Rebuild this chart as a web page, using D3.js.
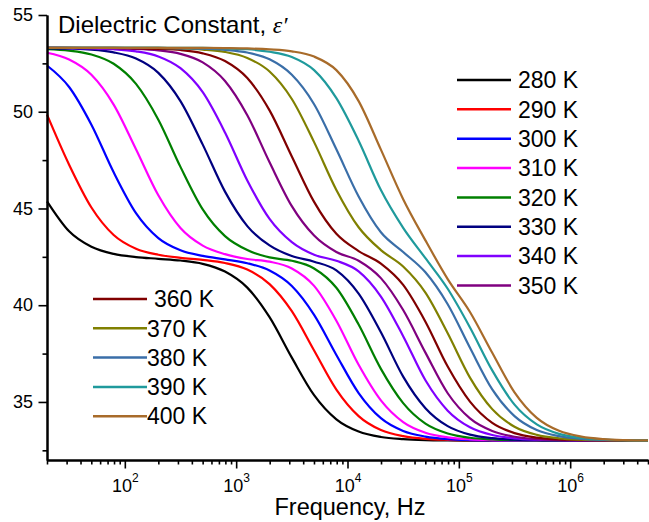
<!DOCTYPE html>
<html>
<head>
<meta charset="utf-8">
<script src="https://cdn.jsdelivr.net/npm/d3@7"></script>
<style>
  body { margin: 0; background: #fff; }
  svg { display: block; font-family: 'Liberation Sans', Arial, sans-serif; }
</style>
</head>
<body>
<svg id="chart" width="649" height="522"></svg>
<script>
// frequency grid, Hz (0.2 decade steps)
const freq = [20, 31.6, 50.1, 79.4, 126, 200, 316, 501, 794, 1259, 1995, 3162, 5012, 7943,
  12589, 19953, 31623, 50119, 79433, 125893, 199526, 316228, 501187, 794328,
  1258925, 1995262, 3162278, 5000000]

const temps = ['280 K', '290 K', '300 K', '310 K', '320 K', '330 K', '340 K',
  '350 K', '360 K', '370 K', '380 K', '390 K', '400 K']
const colors = ['#000000', '#ff0000', '#0000ff', '#ff00ff', '#008000', '#000080', '#8000ff',
  '#800080', '#800000', '#808000', '#3a6ea8', '#1f9a9c', '#a86b2a']

const eps280 = [45.37, 43.82, 43.02, 42.65, 42.49, 42.40, 42.31, 42.14, 41.74, 40.91, 39.38, 37.29, 35.35, 34.10, 33.47, 33.19, 33.08, 33.03, 33.01, 33.00, 33.00, 33.00, 33.00, 33.00, 33.00, 33.00, 33.00, 33.00]
const eps290 = [49.85, 47.26, 45.05, 43.63, 42.92, 42.61, 42.45, 42.34, 42.18, 41.84, 41.09, 39.69, 37.66, 35.64, 34.27, 33.55, 33.23, 33.09, 33.04, 33.02, 33.01, 33.00, 33.00, 33.00, 33.00, 33.00, 33.00, 33.00]
const eps300 = [52.39, 51.28, 49.33, 46.87, 44.76, 43.47, 42.84, 42.55, 42.37, 42.17, 41.79, 40.99, 39.50, 37.43, 35.46, 34.16, 33.50, 33.21, 33.08, 33.03, 33.01, 33.00, 33.00, 33.00, 33.00, 33.00, 33.00, 33.00]
const eps310 = [53.05, 52.70, 51.91, 50.37, 48.06, 45.68, 43.99, 43.08, 42.64, 42.39, 42.25, 41.90, 41.00, 39.20, 36.92, 35.08, 33.96, 33.41, 33.17, 33.07, 33.03, 33.01, 33.00, 33.00, 33.00, 33.00, 33.00, 33.00]
const eps320 = [53.24, 53.16, 52.96, 52.48, 51.44, 49.59, 47.15, 44.95, 43.57, 42.85, 42.47, 42.30, 41.90, 40.90, 39.00, 36.71, 34.94, 33.88, 33.37, 33.15, 33.06, 33.02, 33.01, 33.00, 33.00, 33.00, 33.00, 33.00]
const eps330 = [53.28, 53.26, 53.21, 53.07, 52.75, 52.01, 50.55, 48.30, 45.87, 44.09, 43.09, 42.54, 42.25, 41.80, 40.60, 38.60, 36.31, 34.68, 33.75, 33.31, 33.13, 33.05, 33.02, 33.01, 33.00, 33.00, 33.00, 33.00]
const eps340 = [53.30, 53.29, 53.27, 53.23, 53.12, 52.86, 52.25, 51.01, 48.93, 46.45, 44.46, 43.26, 42.61, 42.30, 41.75, 40.45, 38.40, 36.12, 34.55, 33.69, 33.29, 33.12, 33.05, 33.02, 33.01, 33.00, 33.00, 33.00]
const eps350 = [53.30, 53.30, 53.29, 53.28, 53.25, 53.17, 52.99, 52.55, 51.59, 49.82, 47.39, 45.12, 43.60, 42.75, 42.30, 41.40, 39.75, 37.55, 35.45, 34.15, 33.50, 33.20, 33.08, 33.03, 33.01, 33.01, 33.00, 33.00]
const eps360 = [53.30, 53.30, 53.30, 53.30, 53.28, 53.25, 53.19, 53.02, 52.62, 51.74, 50.07, 47.69, 45.34, 43.69, 42.80, 42.15, 41.05, 39.15, 36.83, 35.02, 33.92, 33.39, 33.16, 33.06, 33.03, 33.01, 33.00, 33.00]
const eps370 = [53.30, 53.30, 53.30, 53.30, 53.30, 53.30, 53.27, 53.21, 53.09, 52.78, 52.08, 50.66, 48.43, 45.96, 44.03, 42.85, 42.00, 40.65, 38.55, 36.26, 34.63, 33.72, 33.30, 33.12, 33.05, 33.02, 33.01, 33.00]
const eps380 = [53.30, 53.30, 53.30, 53.30, 53.30, 53.30, 53.28, 53.26, 53.20, 53.06, 52.71, 51.91, 50.39, 48.06, 45.62, 43.77, 42.75, 41.70, 40.05, 37.80, 35.65, 34.27, 33.55, 33.23, 33.09, 33.04, 33.02, 33.01]
const eps390 = [53.30, 53.30, 53.30, 53.30, 53.30, 53.30, 53.30, 53.30, 53.27, 53.23, 53.10, 52.83, 52.15, 50.70, 48.50, 45.95, 44.00, 42.43, 40.85, 38.85, 36.63, 34.86, 33.84, 33.35, 33.14, 33.06, 33.02, 33.01]
const eps400 = [53.30, 53.30, 53.30, 53.30, 53.30, 53.30, 53.30, 53.30, 53.29, 53.27, 53.22, 53.12, 52.85, 52.15, 50.55, 48.04, 45.48, 43.35, 41.35, 39.65, 37.54, 35.50, 34.18, 33.51, 33.21, 33.08, 33.03, 33.01]

const series = [eps280, eps290, eps300, eps310, eps320, eps330, eps340,
  eps350, eps360, eps370, eps380, eps390, eps400]

const yMajor = [35, 40, 45, 50, 55]
const yMinor = [32.5, 37.5, 42.5, 47.5, 52.5]
const xMajorExp = [2, 3, 4, 5, 6]

const svg = d3.select('#chart')
const plotLeft = 47
const plotRight = 648
const plotTop = 15
const plotBottom = 460

const x = d3.scaleLog().domain([20, 5e6]).range([plotLeft, plotRight])
const y = d3.scaleLinear().domain([32, 55]).range([plotBottom, plotTop])

// curves
const line = d3.line()
  .x(d => x(d[0]))
  .y(d => y(d[1]))
  .curve(d3.curveMonotoneX)

svg.append('g')
  .selectAll('path')
  .data(series)
  .enter()
  .append('path')
  .attr('d', s => line(s.map((v, i) => [freq[i], v])))
  .attr('fill', 'none')
  .attr('stroke', (d, i) => colors[i])
  .attr('stroke-width', 2.2)
  .attr('stroke-linejoin', 'round')

// x axis: minor ticks and majors in separate groups
const xMinor = []
for (let e = 1; e <= 6; e++) {
  for (let m = 2; m <= 9; m++) {
    const v = m * Math.pow(10, e)
    if (v >= 20 && v <= 5e6) xMinor.push(v)
  }
}

svg.append('g')
  .attr('transform', `translate(0,${plotBottom})`)
  .call(d3.axisBottom(x).tickValues(xMinor).tickFormat('').tickSize(4.5).tickSizeOuter(0))

const gx = svg.append('g')
  .attr('transform', `translate(0,${plotBottom})`)
  .call(d3.axisBottom(x).tickValues(xMajorExp.map(e => Math.pow(10, e))).tickSize(8.5).tickSizeOuter(0))

gx.selectAll('.tick text').each(function (d) {
  const t = d3.select(this)
  t.text('').attr('y', 31.5).attr('dy', null)
    .style('font-size', '18px').attr('fill', '#000')
  t.append('tspan').text('10')
  t.append('tspan').attr('dy', -10).style('font-size', '12px').text(Math.round(Math.log10(d)))
})

// y axis
svg.append('g')
  .attr('transform', `translate(${plotLeft},0)`)
  .call(d3.axisLeft(y).tickValues(yMinor).tickFormat('').tickSize(4.5).tickSizeOuter(0))

const gy = svg.append('g')
  .attr('transform', `translate(${plotLeft},0)`)
  .call(d3.axisLeft(y).tickValues(yMajor).tickSize(8.5).tickSizeOuter(0))
gy.selectAll('.tick text')
  .style('font-size', '18px')
  .style('font-family', "'Liberation Sans', Arial, sans-serif")
  .attr('fill', '#000')
  .attr('x', -14)

svg.selectAll('.tick line').attr('stroke', '#000').attr('stroke-width', 1.6)
svg.selectAll('.domain').attr('stroke', '#000').attr('stroke-width', 2)
gx.selectAll('.tick text').style('font-family', "'Liberation Sans', Arial, sans-serif")

// axis title
svg.append('text')
  .attr('x', 350)
  .attr('y', 515)
  .attr('text-anchor', 'middle')
  .style('font-size', '23.5px')
  .text('Frequency, Hz')

// panel title
const title = svg.append('text')
  .attr('x', 58)
  .attr('y', 33)
  .style('font-size', '24px')
title.append('tspan').text('Dielectric Constant, ')
title.append('tspan')
  .style('font-family', "'Liberation Serif', 'Times New Roman', serif")
  .style('font-style', 'italic')
  .text('ε\u2032')

// legends
const legendA = temps.slice(0, 8)
const legendB = temps.slice(8)

const drawLegend = (items, offset, lx, ly, step, textGap) => {
  const g = svg.append('g')
  items.forEach((label, i) => {
    const yy = ly + i * step
    g.append('line')
      .attr('x1', lx).attr('x2', lx + 54)
      .attr('y1', yy).attr('y2', yy)
      .attr('stroke', colors[offset + i])
      .attr('stroke-width', 2.5)
    g.append('text')
      .attr('x', lx + 54 + (label === '360 K' ? 7 : textGap))
      .attr('y', yy + 8.2)
      .style('font-size', '23px')
      .text(label)
  })
}

drawLegend(legendA, 0, 457, 80, 29.35, 7)
drawLegend(legendB, 8, 93, 299, 29.3, 0)
</script>
</body>
</html>
